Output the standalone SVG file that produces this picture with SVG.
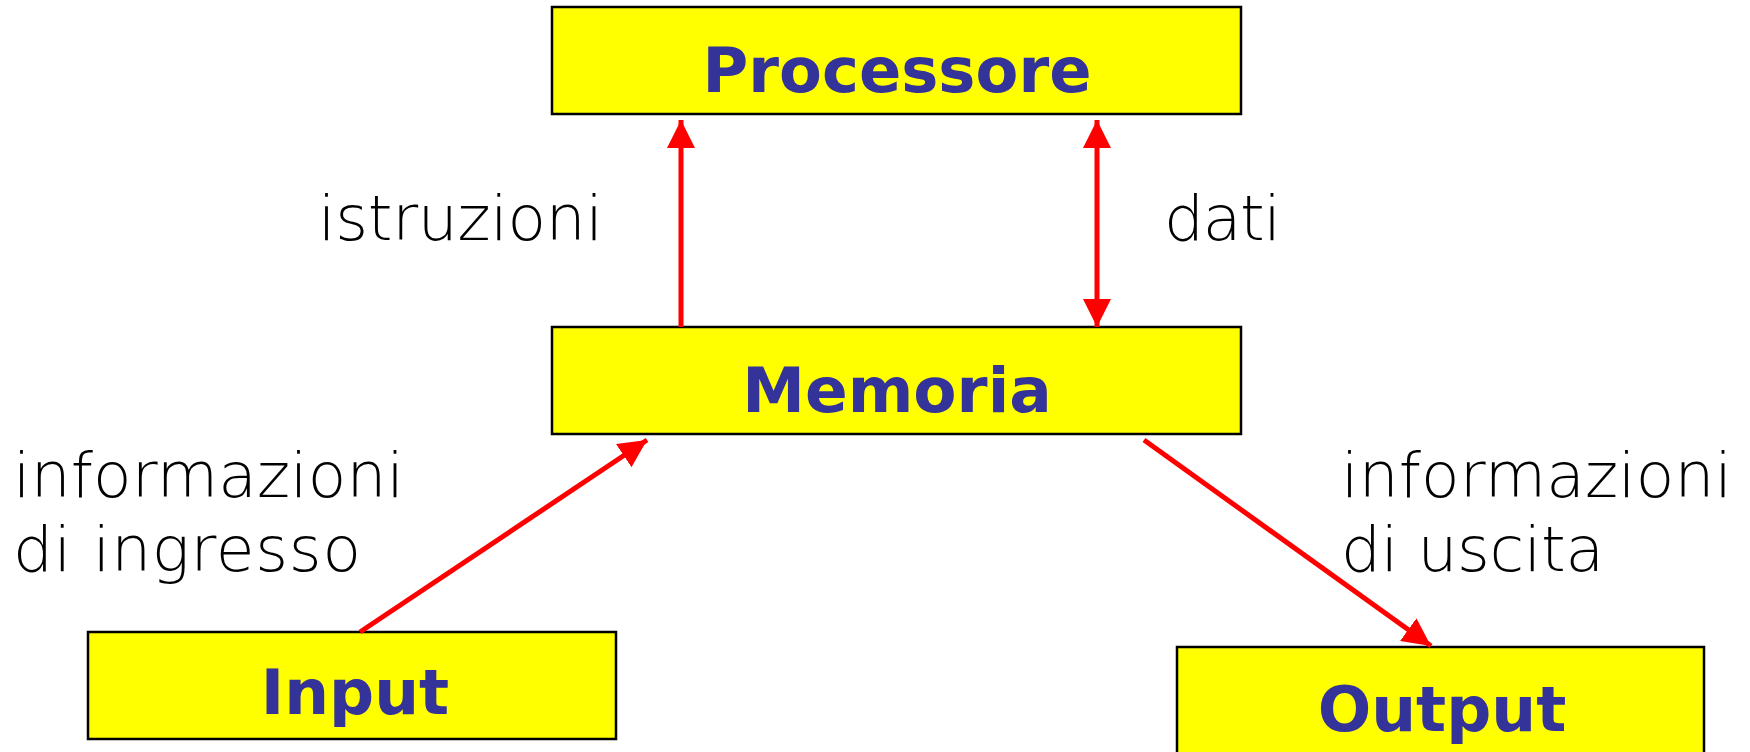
<svg xmlns="http://www.w3.org/2000/svg" width="1750" height="752" viewBox="0 0 1750 752">
<defs>
<style>
.box{fill:#ffff00;stroke:#000;stroke-width:2.5}
.bt{font-family:"DejaVu Sans",Verdana,sans-serif;font-weight:bold;font-size:63px;fill:#333399;text-anchor:middle}
.lb{font-family:"DejaVu Sans","Liberation Sans",sans-serif;font-weight:200;font-size:63px;fill:#000}
.conn{stroke:#ff0000;stroke-width:5;fill:none}
</style>
<marker id="ah" markerUnits="userSpaceOnUse" markerWidth="28" markerHeight="28" viewBox="0 0 26 26" refX="26" refY="13" orient="auto-start-reverse">
<path d="M0,0 L26,13 L0,26 Z" fill="#ff0000"/>
</marker>
</defs>
<rect width="1750" height="752" fill="#fff"/>
<g id="processore"><rect class="box" x="552" y="7" width="689" height="107"/><text class="bt" x="897" y="92" textLength="389" lengthAdjust="spacingAndGlyphs">Processore</text></g>
<g id="memoria"><rect class="box" x="552" y="327" width="689" height="107"/><text class="bt" x="897" y="412">Memoria</text></g>
<g id="input"><rect class="box" x="88" y="632" width="528" height="107"/><text class="bt" x="355" y="714">Input</text></g>
<g id="output"><rect class="box" x="1177" y="647" width="527" height="120"/><text class="bt" x="1442" y="731">Output</text></g>
<g id="connectors">
<line class="conn" x1="681" y1="327" x2="681" y2="120" marker-end="url(#ah)"/>
<line class="conn" x1="1097" y1="120" x2="1097" y2="327" marker-start="url(#ah)" marker-end="url(#ah)"/>
<line class="conn" x1="360" y1="632" x2="647" y2="440" marker-end="url(#ah)"/>
<line class="conn" x1="1144" y1="440" x2="1431" y2="646" marker-end="url(#ah)"/>
</g>
<g id="labels">
<text class="lb" x="318" y="240" textLength="285" lengthAdjust="spacing">istruzioni</text>
<text class="lb" x="1164" y="240" textLength="117" lengthAdjust="spacing">dati</text>
<text class="lb" x="13" y="497" textLength="391" lengthAdjust="spacing">informazioni</text>
<text class="lb" x="13" y="571" textLength="348" lengthAdjust="spacing">di ingresso</text>
<text class="lb" x="1341" y="497" textLength="391" lengthAdjust="spacing">informazioni</text>
<text class="lb" x="1341" y="571" textLength="263" lengthAdjust="spacing">di uscita</text>
</g>
</svg>
